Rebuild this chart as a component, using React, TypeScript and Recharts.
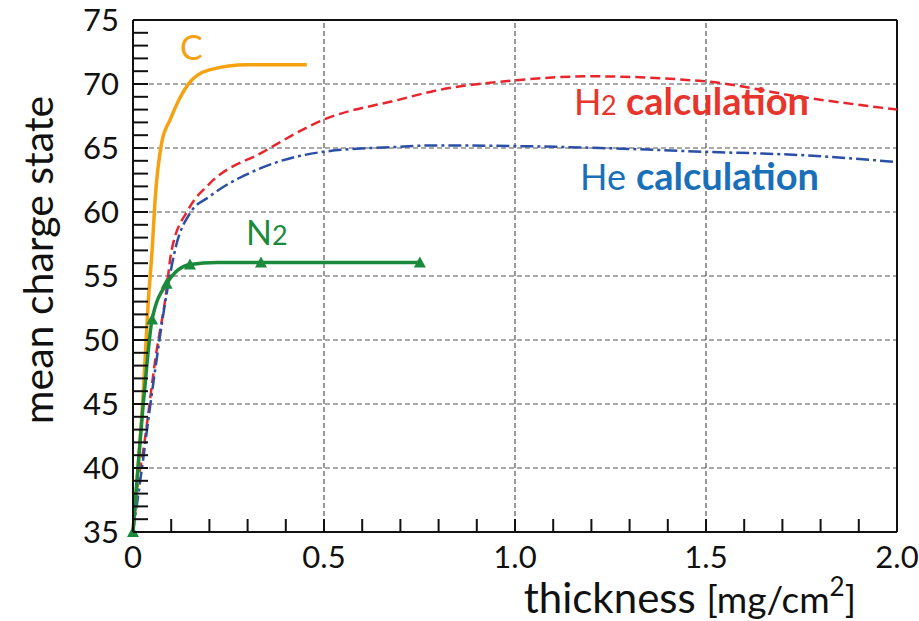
import { LineChart, Line, XAxis, YAxis, ReferenceLine } from 'recharts';

// thickness [mg/cm2] vs mean charge state
const cData = [
    { x: 0, y: 35 }, { x: 0.027, y: 46 }, { x: 0.04, y: 53 }, { x: 0.05, y: 57 },
    { x: 0.058, y: 61 }, { x: 0.075, y: 65.4 }, { x: 0.097, y: 67.2 }, { x: 0.145, y: 70 },
    { x: 0.2, y: 71.1 }, { x: 0.3, y: 71.5 }, { x: 0.455, y: 71.5 },
];

const n2Data = [
    { x: 0, y: 35, m: true }, { x: 0.03, y: 46 }, { x: 0.05, y: 51.6, m: true },
    { x: 0.088, y: 54.4, m: true }, { x: 0.149, y: 55.9, m: true }, { x: 0.22, y: 56.05 },
    { x: 0.335, y: 56.05, m: true }, { x: 0.751, y: 56.05, m: true },
];

const h2Data = [
    { x: 0, y: 35 }, { x: 0.013, y: 38.8 }, { x: 0.027, y: 41.4 }, { x: 0.062, y: 49.2 },
    { x: 0.084, y: 53.1 }, { x: 0.101, y: 57 }, { x: 0.145, y: 60.2 }, { x: 0.2, y: 62.2 },
    { x: 0.341, y: 64.7 }, { x: 0.498, y: 67.2 }, { x: 0.7, y: 68.8 }, { x: 0.78, y: 69.4 },
    { x: 1.004, y: 70.3 }, { x: 1.196, y: 70.6 }, { x: 1.5, y: 70.2 }, { x: 1.746, y: 69.0 },
    { x: 2.0, y: 68.0 },
];

const heData = [
    { x: 0, y: 35 }, { x: 0.018, y: 38.8 }, { x: 0.053, y: 46.6 }, { x: 0.088, y: 53.6 },
    { x: 0.114, y: 57.5 }, { x: 0.149, y: 59.9 }, { x: 0.2, y: 61.2 }, { x: 0.341, y: 63.5 },
    { x: 0.498, y: 64.7 }, { x: 0.7, y: 65.1 }, { x: 0.78, y: 65.2 }, { x: 1.004, y: 65.15 },
    { x: 1.223, y: 65.0 }, { x: 1.5, y: 64.7 }, { x: 1.746, y: 64.45 }, { x: 2.0, y: 63.9 },
];

const xMajor = [0, 0.5, 1.0, 1.5, 2.0];
const xMinor = [0, 0.1, 0.2, 0.3, 0.4, 0.5, 0.6, 0.7, 0.8, 0.9, 1.0, 1.1, 1.2, 1.3, 1.4, 1.5, 1.6, 1.7, 1.8, 1.9, 2.0];
const yMajor = [35, 40, 45, 50, 55, 60, 65, 70, 75];
const yMinor = Array.from({ length: 41 }, (_, i) => 35 + i);

const FONT = 'Lato, "Noto Sans", sans-serif';

const isMajorX = (v: number) => xMajor.some((m) => Math.abs(m - v) < 1e-6);

const XTick = (props: any) => {
    const { x, y, payload } = props;
    const v = payload.value;
    return (
        <g>
            <line x1={x} x2={x} y1={y} y2={y - 13} stroke="#111" strokeWidth={2} />
            {isMajorX(v) && (
                <text x={x} y={y + 36} textAnchor="middle" fontSize={31} fill="#111" fontFamily={FONT}>
                    {v === 0 ? '0' : v.toFixed(1)}
                </text>
            )}
        </g>
    );
};

const YTick = (props: any) => {
    const { x, y, payload } = props;
    const v = payload.value;
    return (
        <g>
            <line x1={x} x2={x + 15} y1={y} y2={y} stroke="#111" strokeWidth={2} />
            {v % 5 === 0 && (
                <text x={x - 14} y={y + 11} textAnchor="end" fontSize={31} fill="#111" fontFamily={FONT}>
                    {v}
                </text>
            )}
        </g>
    );
};

const TriangleDot = (props: any) => {
    const { cx, cy, payload } = props;
    if (!payload || !payload.m) return <g />;
    return <path d={`M${cx},${cy - 6} L${cx + 6},${cy + 5} L${cx - 6},${cy + 5} Z`} fill="#1b8a3c" />;
};

export default function App() {
    return (
        <div style={{ position: 'absolute', left: 0, top: 0, width: 919, height: 621, background: '#fff' }}>
            <LineChart width={919} height={621} margin={{ top: 20, right: 22, left: 0, bottom: 0 }}>
                <XAxis
                    dataKey="x"
                    type="number"
                    domain={[0, 2]}
                    ticks={xMinor}
                    interval={0}
                    height={89}
                    tickSize={0}
                    tickMargin={0}
                    tickLine={false}
                    tick={<XTick />}
                    axisLine={{ stroke: '#111', strokeWidth: 2 }}
                />
                <YAxis
                    type="number"
                    domain={[35, 75]}
                    ticks={yMinor}
                    interval={0}
                    width={133}
                    tickSize={0}
                    tickMargin={0}
                    tickLine={false}
                    tick={<YTick />}
                    axisLine={{ stroke: '#111', strokeWidth: 2 }}
                />

                {yMajor.slice(1, -1).map((v) => (
                    <ReferenceLine key={`gy${v}`} y={v} stroke="#555" strokeWidth={1.2} strokeDasharray="5 3" />
                ))}
                {xMajor.slice(1, -1).map((v) => (
                    <ReferenceLine key={`gx${v}`} x={v} stroke="#555" strokeWidth={1.2} strokeDasharray="5 3" />
                ))}
                <ReferenceLine y={75} stroke="#111" strokeWidth={2} />
                <ReferenceLine x={2} stroke="#111" strokeWidth={2} />

                <Line data={h2Data} dataKey="y" type="monotone" stroke="#e8252c" strokeWidth={2.5}
                    strokeDasharray="10 5" dot={false} isAnimationActive={false} />
                <Line data={heData} dataKey="y" type="monotone" stroke="#2b4fa6" strokeWidth={2.5}
                    strokeDasharray="13 4 3 4" dot={false} isAnimationActive={false} />
                <Line data={cData} dataKey="y" type="monotone" stroke="#f5a110" strokeWidth={3.5}
                    dot={false} isAnimationActive={false} />
                <Line data={n2Data} dataKey="y" type="monotone" stroke="#1b8a3c" strokeWidth={3.5}
                    dot={<TriangleDot />} isAnimationActive={false} />
            </LineChart>

            <svg width={919} height={621} style={{ position: 'absolute', left: 0, top: 0, pointerEvents: 'none' }}>
                <text transform="translate(53,260) rotate(-90)" textAnchor="middle" fontSize={41} fill="#111" fontFamily={FONT}>
                    mean charge state
                </text>
                <text x={856} y={613} textAnchor="end" fontSize={42} fill="#111" fontFamily={FONT}>
                    thickness <tspan fontSize={37}>[mg/cm</tspan><tspan fontSize={26} dy={-17}>2</tspan><tspan fontSize={37} dy={17}>]</tspan>
                </text>
                <text x={180} y={60} fontSize={34} fill="#f5a110" fontFamily={FONT}>C</text>
                <text x={246} y={245} fontSize={34} fill="#1b8a3c" fontFamily={FONT}>
                    N<tspan fontSize={27}>2</tspan>
                </text>
                <text x={574} y={115} fontSize={36} fill="#e8352c" fontFamily={FONT}>H</text>
                <text x={601} y={115} fontSize={27} fill="#e8352c" fontFamily={FONT}>2</text>
                <text x={626} y={115} fontSize={38} fontWeight="bold" fill="#e8352c" fontFamily={FONT}>calculation</text>
                <text x={580} y={190} fontSize={36} fill="#1a70b8" fontFamily={FONT}>He</text>
                <text x={636} y={190} fontSize={38} fontWeight="bold" fill="#1a70b8" fontFamily={FONT}>calculation</text>
            </svg>
        </div>
    );
}
